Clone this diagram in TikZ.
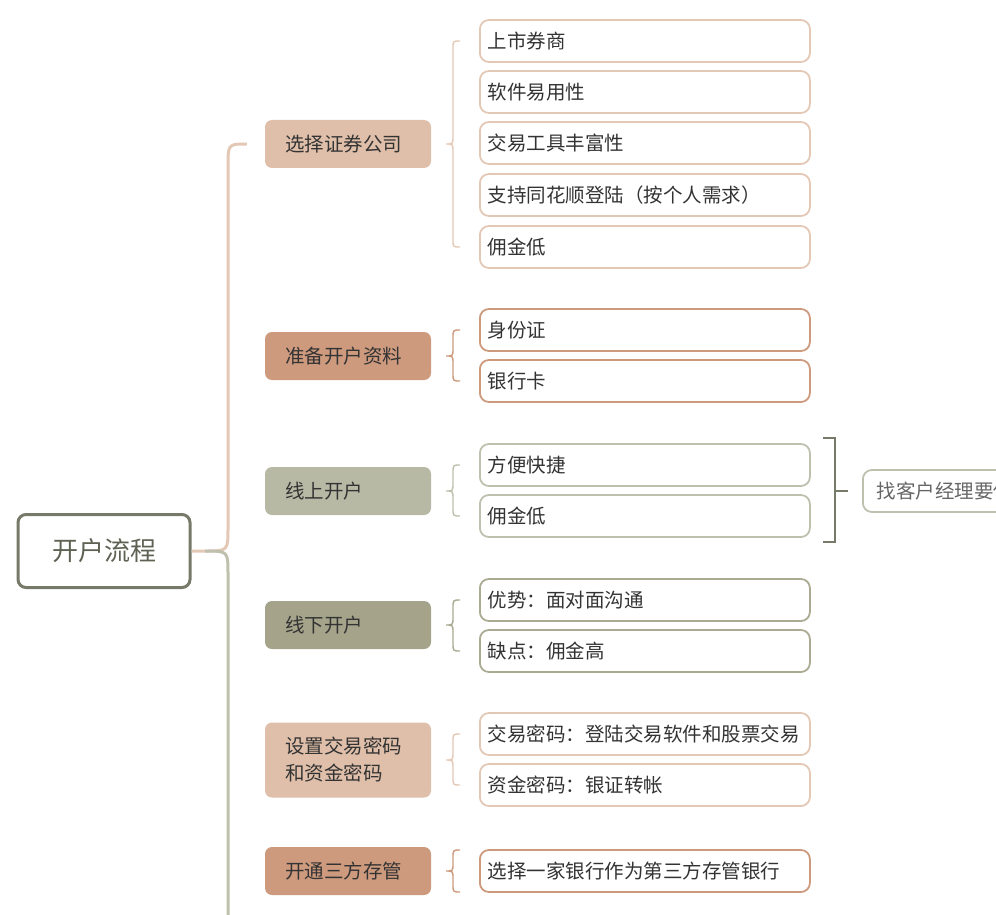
\documentclass[tikz,border=0pt]{standalone}
\usepackage{fontspec}
\setmainfont{Noto Sans CJK SC}
\usetikzlibrary{calc}
\definecolor{rootc}{HTML}{767A68}
\definecolor{tc}{HTML}{333333}
\definecolor{ca}{HTML}{DFBFA9}
\definecolor{cb}{HTML}{CD9A7E}
\definecolor{cc}{HTML}{B8B9A5}
\definecolor{cd}{HTML}{A5A48B}
\definecolor{la}{HTML}{E3C8B6}
\definecolor{lc}{HTML}{BFC0AE}
\definecolor{ld}{HTML}{ABAB93}
\tikzset{
 lvone/.style={rounded corners=7pt,minimum width=166pt,minimum height=48pt,text width=126pt,align=left,font=\fontsize{19.5pt}{27pt}\selectfont,text=tc},
 leaf/.style={draw,line width=1.8pt,rounded corners=9pt,minimum width=330pt,minimum height=42pt,text width=314pt,align=left,font=\fontsize{19.5pt}{22pt}\selectfont,text=tc,anchor=west},
 br/.style={line width=1.4pt}
}
\newcommand\mybrace[4]{%
 \draw[br,#4] let \p1=#1, \p2=#2, \p3=#3 in
 (\x1-19pt,\y1) .. controls (\x1-26pt,\y1) .. (\x1-26pt,\y1-8pt) -- (\x1-26pt,\y3+8pt)
 .. controls (\x1-26pt,\y3) .. (\x1-33pt,\y3) .. controls (\x1-26pt,\y3) .. (\x1-26pt,\y3-8pt)
 -- (\x1-26pt,\y2+8pt) .. controls (\x1-26pt,\y2) .. (\x1-19pt,\y2);}
\begin{document}
\begin{tikzpicture}[x=1pt,y=-1pt]
\useasboundingbox (0,0) rectangle (996,915);
\clip (0,0) rectangle (996,915);
\node[draw=rootc,line width=3pt,rounded corners=8pt,minimum width=172pt,minimum height=73pt,font=\fontsize{26pt}{28pt}\selectfont,text=rootc!80!black] (root) at (104,551) {开户流程};
\node[lvone,fill=ca] (p1) at (348,144) {选择证券公司};
\node[lvone,fill=cb] (p2) at (348,356) {准备开户资料};
\node[lvone,fill=cc] (p3) at (348,491) {线上开户};
\node[lvone,fill=cd] (p4) at (348,625) {线下开户};
\node[lvone,fill=ca,minimum height=75pt] (p5) at (348,760) {设置交易密码\\和资金密码};
\node[lvone,fill=cb] (p6) at (348,871) {开通三方存管};
\coordinate (bend) at (205,551);
\coordinate (bottom) at (228,915);
\draw[la,line width=3pt] let \p1=(bend), \p2=(p1.west) in (root.east) -- (bend) .. controls (\x1+23pt,\y1) .. (\x1+23pt,\y1+23pt) -- (\x1+23pt,\y2-23pt) .. controls (\x1+23pt,\y2) .. (\x2-18pt,\y2);
\draw[lc,line width=3pt] let \p1=(bend) in (bend) .. controls (\x1+23pt,\y1) .. (\x1+23pt,\y1-23pt) -- (bottom);
% leaves
\node[leaf,draw=la] (a1) at (479,41) {上市券商};
\node[leaf,draw=la] (a2) at (479,92) {软件易用性};
\node[leaf,draw=la] (a3) at (479,143) {交易工具丰富性};
\node[leaf,draw=la] (a4) at (479,195) {支持同花顺登陆（按个人需求）};
\node[leaf,draw=la] (a5) at (479,247) {佣金低};
\node[leaf,draw=cb] (b1) at (479,330) {身份证};
\node[leaf,draw=cb] (b2) at (479,381) {银行卡};
\node[leaf,draw=lc] (c1) at (479,465) {方便快捷};
\node[leaf,draw=lc] (c2) at (479,516) {佣金低};
\node[leaf,draw=ld] (d1) at (479,600) {优势：面对面沟通};
\node[leaf,draw=ld] (d2) at (479,651) {缺点：佣金高};
\node[leaf,draw=la] (e1) at (479,734) {交易密码：登陆交易软件和股票交易};
\node[leaf,draw=la] (e2) at (479,785) {资金密码：银证转帐};
\node[leaf,draw=cb] (f1) at (479,871) {选择一家银行作为第三方存管银行};
\mybrace{(a1.west)}{(a5.west)}{(p1.east)}{la}
\mybrace{(b1.west)}{(b2.west)}{(p2.east)}{cb}
\mybrace{(c1.west)}{(c2.west)}{(p3.east)}{lc}
\mybrace{(d1.west)}{(d2.west)}{(p4.east)}{ld}
\mybrace{(e1.west)}{(e2.west)}{(p5.east)}{la}
\mybrace{([yshift=21pt]f1.west)}{([yshift=-21pt]f1.west)}{(p6.east)}{cb}
% summary
\node[draw=lc,line width=1.8pt,rounded corners=9pt,minimum height=42pt,text=black!60,font=\fontsize{19.5pt}{22pt}\selectfont,anchor=west,inner xsep=14pt] (s) at (862,491) {找客户经理要佣金};
\coordinate (bt) at (823,438);
\coordinate (bb) at (823,542);
\coordinate (bm) at (848,491);
\draw[rootc,line width=1.8pt] (bt) -| (835,542) -- (bb);
\draw[rootc,line width=1.8pt] (835,491) -- (bm);
\end{tikzpicture}
\end{document}
